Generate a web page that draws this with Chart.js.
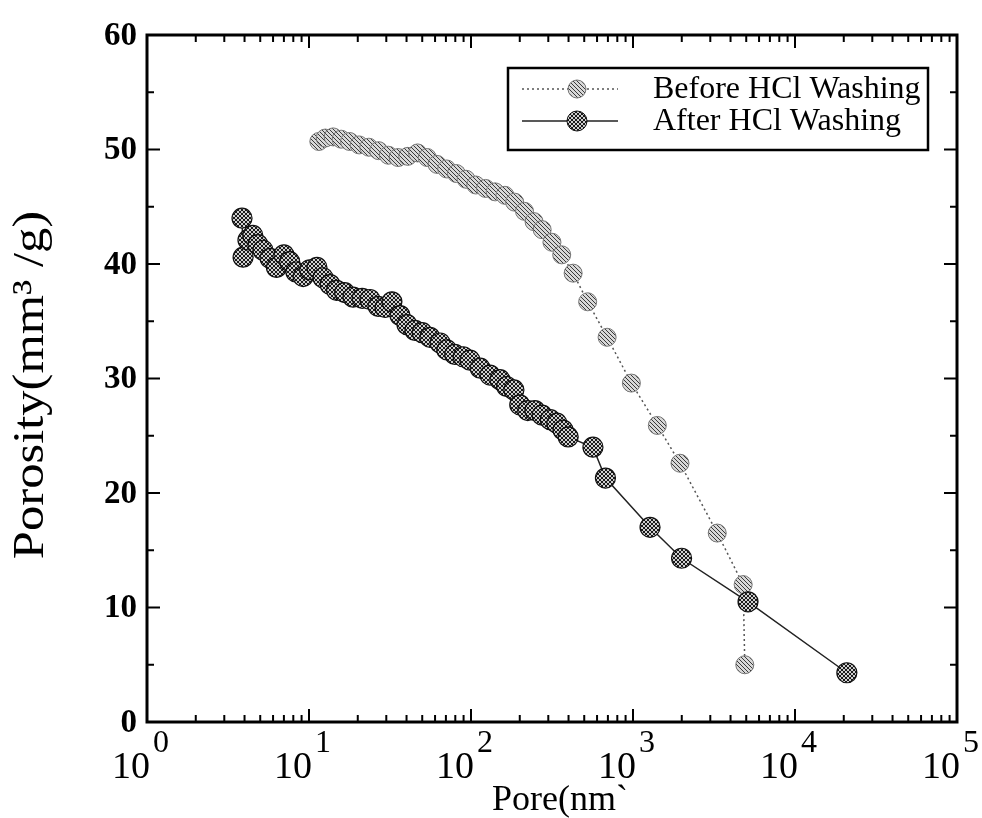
<!DOCTYPE html>
<html>
<head>
<meta charset="utf-8">
<script src="https://cdn.jsdelivr.net/npm/chart.js@4"></script>
<style>
  html, body { margin: 0; padding: 0; background: #fff; }
  #wrap { width: 982px; height: 818px; }
</style>
</head>
<body>
<div id="wrap"><canvas id="chart" width="982" height="818"></canvas></div>
<script>
/* ---- data ---- */
const beforePore = [11.5, 12.6, 14.1, 15.8, 17.8, 20.4, 23.4, 26.9, 30.9, 35.5, 40.7, 46.8, 53.7, 61.7, 70.8, 81.3, 93.3, 107, 123, 141, 162, 186, 214, 245, 275, 316, 363, 427, 525, 692, 977, 1413, 1950, 3311, 4786, 4898];
const beforePorosity = [50.7, 51.0, 51.1, 50.9, 50.7, 50.4, 50.2, 49.9, 49.5, 49.3, 49.4, 49.7, 49.3, 48.7, 48.3, 47.9, 47.4, 46.9, 46.6, 46.3, 46.0, 45.4, 44.6, 43.7, 43.0, 41.9, 40.8, 39.2, 36.7, 33.6, 29.6, 25.9, 22.6, 16.5, 12.0, 5.0];

const afterPore = [3.86, 3.92, 4.2, 4.5, 4.84, 5.2, 5.75, 6.3, 7.0, 7.6, 8.3, 9.2, 10.1, 11.2, 12.2, 13.5, 14.8, 16.6, 18.7, 21.3, 23.8, 26.7, 29.5, 32.5, 36.5, 40.3, 45.1, 50, 55.8, 64.5, 70.9, 79.4, 89.5, 98.6, 114, 131, 151, 166, 184, 200, 224, 248, 275, 309, 339, 370, 398, 566, 676, 1274, 1995, 5130, 20900];
const afterPorosity = [44.0, 40.6, 42.1, 42.5, 41.7, 41.2, 40.5, 39.7, 40.8, 40.2, 39.3, 38.9, 39.5, 39.7, 38.8, 38.2, 37.7, 37.5, 37.1, 37.0, 36.9, 36.3, 36.2, 36.7, 35.5, 34.7, 34.2, 34.0, 33.6, 33.1, 32.5, 32.1, 31.9, 31.6, 30.9, 30.3, 29.9, 29.3, 29.0, 27.7, 27.2, 27.2, 26.8, 26.4, 26.1, 25.5, 24.9, 24.0, 21.3, 17.0, 14.3, 10.5, 4.3];

const yTicks = [0, 10, 20, 30, 40, 50, 60];
const xTickExps = [0, 1, 2, 3, 4, 5];
const seriesNames = ["Before HCl Washing", "After HCl Washing"];

const SERIF = "'Liberation Serif', 'DejaVu Serif', serif";

/* hatched marker fills, like the scanned print */
function makePattern(bg, ink, cross) {
  const c = document.createElement("canvas");
  c.width = 4; c.height = 4;
  const g = c.getContext("2d");
  g.fillStyle = bg; g.fillRect(0, 0, 4, 4);
  g.fillStyle = ink;
  for (let i = 0; i < 4; i++) {
    g.fillRect(i, i, 1, 1);
    if (cross) g.fillRect(3 - i, i, 1, 1);
  }
  return g.createPattern(c, "repeat");
}
const beforeFill = makePattern("#d8d8d8", "#3a3a3a", false);
const afterFill = makePattern("#cfcfcf", "#1a1a1a", true);

function toPoints(xs, ys) {
  return xs.map((x, i) => ({ x, y: ys[i] }));
}

const framePlugin = {
  id: "frame",
  afterDraw(chart) {
    const { ctx, chartArea: a, scales: { x, y } } = chart;
    ctx.save();
    ctx.strokeStyle = "#000";
    ctx.fillStyle = "#000";

    // inward ticks, all four sides
    ctx.lineWidth = 2;
    ctx.beginPath();
    for (let v = 0; v <= 60; v += 5) {
      const py = y.getPixelForValue(v);
      const len = v % 10 ? 7 : 13;
      ctx.moveTo(a.left, py); ctx.lineTo(a.left + len, py);
      ctx.moveTo(a.right, py); ctx.lineTo(a.right - len, py);
    }
    for (let e = 0; e < 5; e++) {
      for (let m = 1; m <= 9; m++) {
        const px = x.getPixelForValue(m * Math.pow(10, e));
        const len = m === 1 ? 13 : 7;
        ctx.moveTo(px, a.bottom); ctx.lineTo(px, a.bottom - len);
        ctx.moveTo(px, a.top); ctx.lineTo(px, a.top + len);
      }
    }
    ctx.stroke();

    ctx.lineWidth = 3;
    ctx.strokeRect(a.left, a.top, a.right - a.left, a.bottom - a.top);

    // y tick labels
    ctx.font = "bold 33px " + SERIF;
    ctx.textAlign = "right";
    ctx.textBaseline = "middle";
    yTicks.forEach((v) => ctx.fillText(String(v), a.left - 10, y.getPixelForValue(v) + 1));

    // x tick labels 10^n
    xTickExps.forEach((e) => {
      const px = x.getPixelForValue(Math.pow(10, e));
      ctx.textBaseline = "alphabetic";
      ctx.font = "38px " + SERIF;
      ctx.textAlign = "right";
      ctx.fillText("10", px + 3, a.bottom + 56);
      ctx.font = "32px " + SERIF;
      ctx.textAlign = "left";
      ctx.fillText(String(e), px + 6, a.bottom + 30);
    });

    // axis titles
    ctx.font = "36px " + SERIF;
    ctx.textAlign = "center";
    ctx.textBaseline = "alphabetic";
    ctx.fillText("Pore(nm`", 560, 810);

    ctx.save();
    ctx.translate(31, 385);
    ctx.rotate(-Math.PI / 2);
    ctx.font = "44px " + SERIF;
    const title = "Porosity(mm\u00b3 /g)";
    const w = ctx.measureText(title).width;
    ctx.scale(Math.min(1.15, 360 / w), 1);
    ctx.textBaseline = "middle";
    ctx.fillText(title, 0, 0);
    ctx.restore();

    // legend
    const box = { l: 508, t: 68, r: 928, b: 150 };
    ctx.lineWidth = 2.5;
    ctx.strokeRect(box.l, box.t, box.r - box.l, box.b - box.t);
    chart.data.datasets.forEach((ds, i) => {
      const ly = i === 0 ? 89 : 121;
      ctx.beginPath();
      ctx.lineWidth = ds.borderWidth;
      ctx.strokeStyle = ds.borderColor;
      ctx.setLineDash(ds.borderDash || []);
      ctx.moveTo(522, ly); ctx.lineTo(618, ly);
      ctx.stroke();
      ctx.setLineDash([]);
      ctx.beginPath();
      ctx.arc(577, ly, ds.pointRadius, 0, Math.PI * 2);
      ctx.fillStyle = ds.pointBackgroundColor;
      ctx.fill();
      ctx.lineWidth = 1;
      ctx.strokeStyle = ds.pointBorderColor;
      ctx.stroke();
      ctx.fillStyle = "#000";
      ctx.font = "32px " + SERIF;
      ctx.textAlign = "left";
      ctx.textBaseline = "middle";
      ctx.fillText(seriesNames[i], 653, ly + 1);
    });
    ctx.restore();
  },
};

new Chart(document.getElementById("chart"), {
  type: "scatter",
  data: {
    datasets: [
      {
        label: seriesNames[0],
        data: toPoints(beforePore, beforePorosity),
        showLine: true,
        borderColor: "#555",
        borderWidth: 1.5,
        borderDash: [2, 3],
        pointRadius: 9,
        pointBackgroundColor: beforeFill,
        pointBorderColor: "#777",
        pointBorderWidth: 1,
        order: 1,
      },
      {
        label: seriesNames[1],
        data: toPoints(afterPore, afterPorosity),
        showLine: true,
        borderColor: "#222",
        borderWidth: 1.5,
        pointRadius: 10,
        pointBackgroundColor: afterFill,
        pointBorderColor: "#111",
        pointBorderWidth: 1.2,
        order: 0,
      },
    ],
  },
  options: {
    responsive: false,
    animation: false,
    layout: { padding: { left: 147, right: 25, top: 35, bottom: 96 } },
    plugins: { legend: { display: false }, tooltip: { enabled: false } },
    scales: {
      x: { type: "logarithmic", min: 1, max: 100000, display: false },
      y: { type: "linear", min: 0, max: 60, display: false },
    },
  },
  plugins: [framePlugin],
});
</script>
</body>
</html>
